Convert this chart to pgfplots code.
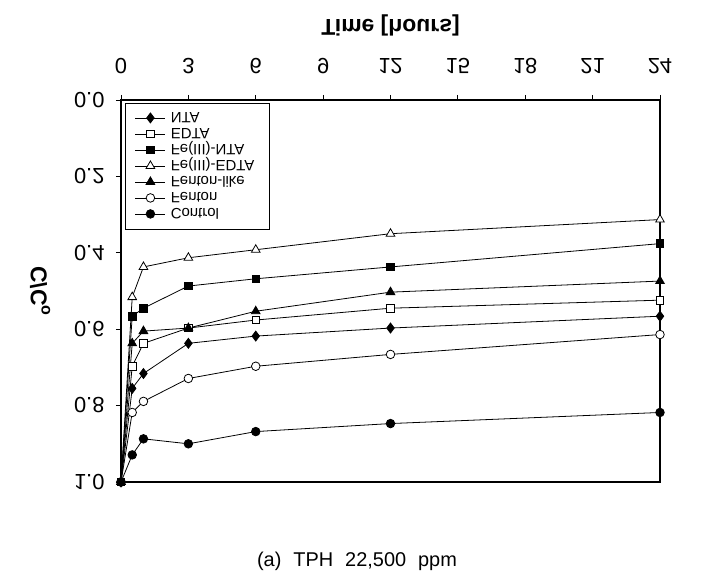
\documentclass[border=0pt]{standalone}
\usepackage{pgfplots}
\pgfplotsset{compat=1.18}
\usepackage{graphicx}
\usepackage{fontspec}
\setmainfont{Liberation Sans}
\newcommand{\vf}[1]{\raisebox{0.716em}{\scalebox{1}[-1]{#1}}}
\newcommand{\vfl}[1]{\raisebox{0.62em}{\scalebox{1}[-1]{#1}}}
\begin{document}
\begin{tikzpicture}
\useasboundingbox (-121bp,-105bp) rectangle (581bp,482bp);
\begin{axis}[
  at={(0,0)}, anchor=south west,
  scale only axis, width=539bp, height=382bp,
  xmin=0, xmax=24, ymin=0, ymax=1,
  y dir=reverse,
  clip=false,
  axis line style={line width=1.1pt},
  xtick={0,3,...,24},
  xticklabel pos=top,
  xticklabels={\vf{0},\vf{3},\vf{6},\vf{9},\vf{12},\vf{15},\vf{18},\vf{21},\vf{24}},
  ytick={0,0.2,0.4,0.6,0.8,1.0},
  yticklabels={\vf{0.0},\vf{0.2},\vf{0.4},\vf{0.6},\vf{0.8},\vf{1.0}},
  tick align=outside, tick pos=left,
  xtick pos=top,
  major tick length=5bp,
  tick style={line width=0.8pt, black},
  tick label style={font=\fontsize{22}{24}\selectfont},
  xticklabel style={yshift=17bp},
  yticklabel style={xshift=-8bp},
  xlabel={\vf{\textbf{Time [hours]}}},
  ylabel={\reflectbox{\textbf{C/C\textsubscript{o}}}},
  label style={font=\fontsize{23}{26}\selectfont},
  xlabel style={at={(axis description cs:0.5,1.196)}, anchor=center},
  ylabel style={at={(axis description cs:-0.150,0.5)}, anchor=center},
  legend style={at={(axis description cs:0.007,0.993)}, anchor=north west,
    draw=black, line width=0.5pt, font=\fontsize{15}{16}\selectfont,
    nodes={text height=11bp, text depth=3bp, inner ysep=1bp, inner xsep=5bp},
    row sep=0pt, inner xsep=10bp, inner ysep=7bp},
  legend cell align=left,
  legend image code/.code={%
    \draw[mark repeat=2,mark phase=2] plot coordinates {(0bp,0bp) (15bp,0bp) (30bp,0bp)};},
  every axis plot/.append style={black, line width=0.8pt},
]
\addplot[mark=diamond*, mark size=5pt, mark options={fill=black}] coordinates {
 (0,1.0) (0.5,0.755) (1,0.716) (3,0.637) (6,0.618) (12,0.597) (24,0.566)};
\addlegendentry{\vfl{NTA}}
\addplot[mark=square*, mark size=3.8pt, mark options={fill=white}] coordinates {
 (0,1.0) (0.5,0.697) (1,0.637) (3,0.597) (6,0.576) (12,0.545) (24,0.524)};
\addlegendentry{\vfl{EDTA}}
\addplot[mark=square*, mark size=3.8pt, mark options={fill=black}] coordinates {
 (0,1.0) (0.5,0.566) (1,0.545) (3,0.487) (6,0.468) (12,0.437) (24,0.376)};
\addlegendentry{\vfl{Fe(III)-NTA}}
\addplot[mark=triangle*, mark size=5pt, mark options={fill=white}] coordinates {
 (0,1.0) (0.5,0.516) (1,0.437) (3,0.413) (6,0.392) (12,0.350) (24,0.313)};
\addlegendentry{\vfl{Fe(III)-EDTA}}
\addplot[mark=triangle*, mark size=5pt, mark options={fill=black}] coordinates {
 (0,1.0) (0.5,0.637) (1,0.605) (3,0.597) (6,0.553) (12,0.503) (24,0.474)};
\addlegendentry{\vfl{Fenton-like}}
\addplot[mark=*, mark size=4.3pt, mark options={fill=white}] coordinates {
 (0,1.0) (0.5,0.818) (1,0.789) (3,0.729) (6,0.697) (12,0.666) (24,0.614)};
\addlegendentry{\vfl{Fenton}}
\addplot[mark=*, mark size=4.3pt, mark options={fill=black}] coordinates {
 (0,1.0) (0.5,0.929) (1,0.887) (3,0.900) (6,0.868) (12,0.847) (24,0.818)};
\addlegendentry{\vfl{Control}}
\draw[line width=2.2pt] (rel axis cs:1,0) -- (rel axis cs:1,1);
\end{axis}
\node[font=\fontsize{20}{24}\selectfont] at (236bp,-79bp) {(a)\hspace{12bp}TPH\hspace{12bp}22,500\hspace{12bp}ppm};
\end{tikzpicture}
\end{document}
